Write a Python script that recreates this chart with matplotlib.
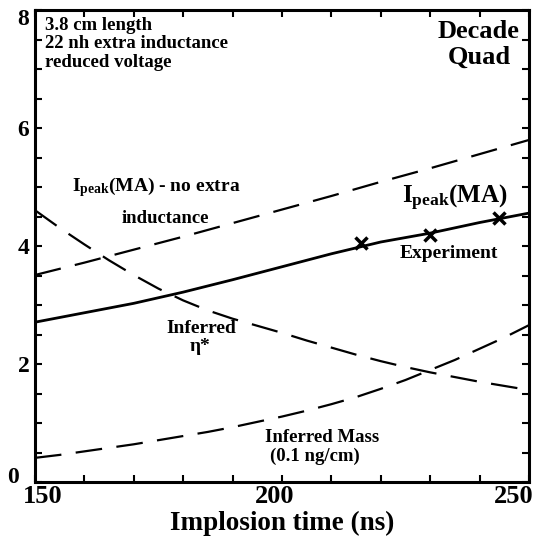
import matplotlib
matplotlib.use("Agg")
import matplotlib.pyplot as plt
import matplotlib.transforms as mtransforms
import numpy as np

plt.rcParams['font.family'] = ['Liberation Serif', 'DejaVu Serif']
plt.rcParams['font.weight'] = 'bold'
plt.rcParams['mathtext.fontset'] = 'custom'
plt.rcParams['mathtext.rm'] = 'Liberation Serif:bold'
plt.rcParams['mathtext.bf'] = 'Liberation Serif:bold'
plt.rcParams['mathtext.it'] = 'Liberation Serif:bold'

# Data
t = [150, 160, 170, 180, 190, 200, 210, 220, 230, 240, 250]
ipeak = [2.71, 2.87, 3.03, 3.22, 3.43, 3.65, 3.87, 4.07, 4.22, 4.40, 4.56]
ipeak_no_extra = [3.51, 3.72, 3.94, 4.16, 4.39, 4.62, 4.85, 5.09, 5.32, 5.56, 5.80]
t_fine = [150, 155, 160, 165, 170, 175, 180, 185, 190, 195, 200, 205, 210, 215, 220,
          225, 230, 235, 240, 245, 250]
eta = [4.61, 4.31, 4.03, 3.76, 3.51, 3.28, 3.08, 2.91, 2.77, 2.65, 2.53, 2.40, 2.28,
       2.16, 2.05, 1.95, 1.86, 1.78, 1.70, 1.63, 1.56]
mass = [0.41, 0.46, 0.52, 0.58, 0.64, 0.71, 0.78, 0.85, 0.93, 1.02, 1.11, 1.21, 1.32,
        1.44, 1.58, 1.73, 1.90, 2.07, 2.26, 2.45, 2.66]
exp_t = [216, 230, 244]
exp_i = [4.05, 4.19, 4.47]
x_ticks = [150, 200, 250]
y_ticks = [0, 2, 4, 6, 8]

fig = plt.figure(figsize=(5.37, 5.38), dpi=100)
ax = fig.add_axes([0.065, 0.104, 0.920, 0.877])

dash = (0, (12, 6.5))
ax.plot(t, ipeak, color='black', lw=2.0)
ax.plot(t, ipeak_no_extra, color='black', lw=1.6, linestyle=dash)
ax.plot(t_fine, eta, color='black', lw=1.6, linestyle=dash)
ax.plot(t_fine, mass, color='black', lw=1.6, linestyle=dash)
ax.plot(exp_t, exp_i, linestyle='none', marker='x', color='black', markersize=8, mew=2.5)

ax.set_xlim(150, 250)
ax.set_ylim(0, 8)
ax.set_xticks(x_ticks)
ax.set_xticks(np.arange(150, 251, 10), minor=True)
ax.set_yticks(y_ticks)
ax.set_yticks(np.arange(0, 8.01, 0.5), minor=True)
ax.tick_params(which='both', direction='in', top=True, right=True, width=1.5, length=5)
ax.tick_params(axis='x', which='major', labelsize=19, pad=2)
ax.tick_params(axis='y', which='major', labelsize=17, pad=4)
for lab in ax.get_xticklabels() + ax.get_yticklabels():
    lab.set_fontweight('bold')
for s in ax.spines.values():
    s.set_linewidth(2.2)

# shift tick labels like in the scanned original
x_shifts = [8, -7, -15]
for lab, dx in zip(ax.get_xticklabels(), x_shifts):
    lab.set_transform(lab.get_transform() +
                      mtransforms.ScaledTranslation(dx / 100, 0, fig.dpi_scale_trans))
y_shifts = [(-10, 7), (0, 0), (0, 0), (0, 0), (0, -7)]
for lab, (dx, dy) in zip(ax.get_yticklabels(), y_shifts):
    lab.set_transform(lab.get_transform() +
                      mtransforms.ScaledTranslation(dx / 100, dy / 100, fig.dpi_scale_trans))

ax.set_xlabel('Implosion time (ns)', fontsize=19.5, fontweight='bold', labelpad=2)

ax.text(152.0, 7.66, '3.8 cm length', fontsize=13.5, fontweight='bold', va='baseline')
ax.text(152.0, 7.36, '22 nh extra inductance', fontsize=13.5, fontweight='bold', va='baseline')
ax.text(152.0, 7.04, 'reduced voltage', fontsize=13.5, fontweight='bold', va='baseline')
ax.text(239.7, 7.53, 'Decade', fontsize=19, fontweight='bold', va='baseline', ha='center')
ax.text(239.9, 7.10, 'Quad', fontsize=19, fontweight='bold', va='baseline', ha='center')
ax.text(157.5, 4.93, r'I$_{\rm peak}$(MA) - no extra', fontsize=14, fontweight='bold',
        va='baseline')
ax.text(167.6, 4.40, 'inductance', fontsize=13.5, fontweight='bold', va='baseline')
ax.text(224.3, 4.73, r'I$_{\rm peak}$(MA)', fontsize=18, fontweight='bold', va='baseline')
ax.text(223.9, 3.80, 'Experiment', fontsize=14, fontweight='bold', va='baseline')
ax.text(183.6, 2.52, 'Inferred', fontsize=14, fontweight='bold', va='baseline', ha='center')
ax.text(183.4, 2.22, 'η*', fontsize=14, fontweight='bold', va='baseline', ha='center')
ax.text(196.6, 0.68, 'Inferred Mass', fontsize=13.5, fontweight='bold', va='baseline')
ax.text(197.6, 0.36, '(0.1 ng/cm)', fontsize=13.5, fontweight='bold', va='baseline')

fig.savefig('out.png', dpi=100)
